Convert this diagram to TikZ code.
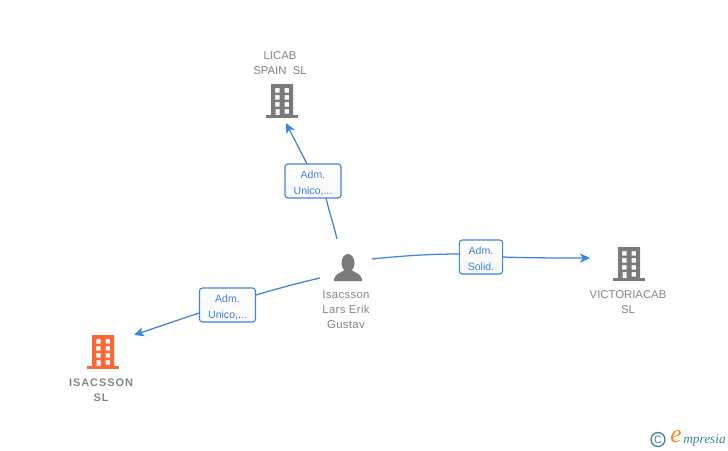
\documentclass[tikz,border=0pt]{standalone}
\usepackage{fontspec}
\setmainfont{Liberation Sans}
\newfontfamily\logofont[ItalicFont=Liberation Serif Italic]{Liberation Serif}
\usetikzlibrary{arrows.meta,shadings}
\definecolor{linkblue}{HTML}{3F83E0}
\definecolor{labelblue}{HTML}{3C7FDC}
\definecolor{icongray}{HTML}{7A7A7A}
\definecolor{textgray}{HTML}{848484}
\definecolor{corange}{HTML}{FF6633}
\definecolor{logoteal}{HTML}{3F8599}
\definecolor{logoorange}{HTML}{F28A1E}
\tikzset{
  x=0.75pt,y=-0.75pt,
  link/.style={draw=linkblue,line width=0.95pt},
  linkarrow/.style={link,-{Stealth[length=7.5pt,width=7pt,inset=2pt]}},
  rolebox/.style={draw=linkblue,line width=0.85pt,rounded corners=2.2pt,top color=white,bottom color=black!3,
    text=labelblue,font=\fontsize{7.9}{12}\selectfont,align=center,inner sep=0pt,anchor=center},
  captxt/.style={text=textgray,font=\fontsize{8.5}{11.2}\selectfont,align=center,inner sep=0pt},
  bld/.pic={
    \fill[even odd rule,fill=#1]
      (-11,-17) rectangle (11,14)
      (-7,-13) rectangle (-2.5,-8.5) (2.5,-13) rectangle (7,-8.5)
      (-7,-6) rectangle (-2.5,-1.5) (2.5,-6) rectangle (7,-1.5)
      (-7,1) rectangle (-2.5,5.5) (2.5,1) rectangle (7,5.5)
      (-6.5,8) rectangle (-2.5,14) (2.5,8) rectangle (7,12.5);
    \fill[#1] (-16,14) rectangle (16,17);
  }
}
\begin{document}
\begin{tikzpicture}
\useasboundingbox (0,0) rectangle (728,450);
\fill[white] (0,0) rectangle (728,450);

% buildings
\pic at (282,101) {bld=icongray};
\pic at (629,264) {bld=icongray};
\pic at (103,352) {bld=corange};

% person
\fill[icongray] (348,263) ellipse [x radius=6.5,y radius=9];
\fill[icongray] (334,281) .. controls (334,274) and (340,273) .. (345,270) -- (351,270)
  .. controls (356,273) and (362,274) .. (362,281) -- cycle;

% captions
\node[captxt] (licab) at (280,63) {LICAB\\SPAIN\ \ SL};
\node[captxt,font=\fontsize{8.5}{11.2}\selectfont\addfontfeature{LetterSpace=3}] (person) at (346,310) {Isacsson\\Lars Erik\\Gustav};
\node[captxt] (victoria) at (628,302) {VICTORIACAB\\SL};
\node[captxt,font=\fontsize{8.2}{11.2}\selectfont\bfseries\addfontfeature{LetterSpace=9}] (isacsson) at (101,390) {ISACSSON\\SL};

% role boxes
\node[rolebox,minimum width=42pt,minimum height=25.5pt] (r1) at (313,181) {\rule{0pt}{9pt}Adm.\\Unico,...};
\node[rolebox,minimum width=32.5pt,minimum height=25.5pt] (r2) at (481,257) {\rule{0pt}{9pt}Adm.\\Solid.};
\node[rolebox,minimum width=42pt,minimum height=25.5pt] (r3) at (227.5,305) {\rule{0pt}{9pt}Adm.\\Unico,...};

% free ends
\coordinate (p1) at (337,239);
\coordinate (p2) at (372,259);
\coordinate (p3) at (320,278);
\coordinate (t1) at (286,123);
\coordinate (t2) at (590,258);
\coordinate (t3) at (134,335);
\coordinate (r1in) at (326,198);
\coordinate (r1out) at (307,164);
\coordinate (r2in) at (459,254);
\coordinate (r2out) at (503,257);
\coordinate (r3in) at (256,295);
\coordinate (r3out) at (199,313);

% connectors
\draw[link] (p1) .. controls (334,226) and (329,211) .. (r1in);
\draw[linkarrow] (r1out) -- (t1);
\draw[link] (p2) .. controls (400,256) and (430,254) .. (r2in);
\draw[linkarrow] (r2out) .. controls (530,258) and (560,258) .. (t2);
\draw[link] (p3) .. controls (298,283) and (276,289) .. (r3in);
\draw[linkarrow] (r3out) -- (t3);

% logo
\node[circle,draw=logoteal,line width=1pt,minimum size=10.5pt,inner sep=0pt,text=logoteal,font=\fontsize{8}{8}\selectfont] (copy) at (658,439.5) {C};
\node[text=logoorange,font=\logofont\itshape\fontsize{19}{19}\selectfont,inner sep=0pt] (logoe) at (676,437) {e};
\node[text=logoteal,font=\logofont\itshape\fontsize{10}{10}\selectfont,inner sep=0pt,anchor=west] (logotxt) at (683,440) {mpresia};
\end{tikzpicture}
\end{document}
